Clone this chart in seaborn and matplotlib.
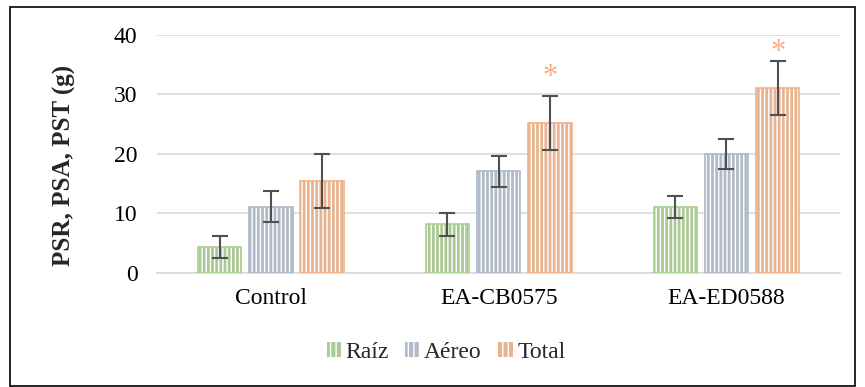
import matplotlib
matplotlib.use("Agg")
import matplotlib.pyplot as plt
import pandas as pd
import seaborn as sns
from matplotlib.patches import Rectangle

# data
groups = ["Control", "EA-CB0575", "EA-ED0588"]
series = ["Raíz", "Aéreo", "Total"]
raiz = [4.4, 8.2, 11.1]
aereo = [11.1, 17.1, 20.0]
total = [15.5, 25.2, 31.1]
raiz_err = [1.9, 1.9, 1.9]
aereo_err = [2.6, 2.6, 2.6]
total_err = [4.5, 4.5, 4.5]
signif = ["", "*", "*"]
signif_y = [None, 33.5, 37.6]

colors = ["#A9D18E", "#ADB9CA", "#F4B183"]

sns.set_theme(style="white")
plt.rcParams["font.family"] = ["Liberation Serif", "DejaVu Serif"]
plt.rcParams["hatch.color"] = "white"
plt.rcParams["hatch.linewidth"] = 1.0

df = pd.DataFrame({
    "grupo": groups * 3,
    "serie": [s for s in series for _ in groups],
    "valor": raiz + aereo + total,
    "err": raiz_err + aereo_err + total_err,
})

fig = plt.figure(figsize=(8.65, 3.87), dpi=100)
ax = fig.add_axes([0.1815, 0.2946, 0.79, 0.615])

ax = sns.barplot(data=df, x="grupo", y="valor", hue="serie", palette=colors,
                 width=0.675, gap=0.155, errorbar=None, ax=ax, linewidth=0,
                 zorder=3)

# hatch + outline per bar, error bars from patch positions
for container, col, s in zip(ax.containers, colors, series):
    sub = df[df["serie"] == s]
    xs, ys = [], []
    for patch, (_, row) in zip(container.patches, sub.iterrows()):
        patch.set_hatch("||||")
        x = patch.get_x() + patch.get_width() / 2
        xs.append(x)
        ys.append(row["valor"])
        ax.add_patch(Rectangle((patch.get_x(), 0), patch.get_width(), row["valor"],
                               fill=False, edgecolor=col, linewidth=1.2, zorder=4))
    ax.errorbar(xs, ys, yerr=sub["err"].values, fmt="none", ecolor="#505050",
                elinewidth=1.5, capsize=6, capthick=1.5, zorder=5)

# significance marks over the Total bars
tot_patches = ax.containers[2].patches
for patch, mark, yy in zip(tot_patches, signif, signif_y):
    if mark:
        ax.text(patch.get_x() + patch.get_width() / 2, yy, mark, ha="center",
                va="center_baseline", color=colors[2], fontsize=22)

ax.set_xlim(-0.5, len(groups) - 0.5)
ax.set_ylim(0, 40)
ax.set_yticks([0, 10, 20, 30, 40])
ax.yaxis.grid(True, color="#D9D9D9", linewidth=1.2, zorder=0)
ax.set_axisbelow(True)
for side in ["top", "right", "left"]:
    ax.spines[side].set_visible(False)
ax.spines["bottom"].set_color("#D9D9D9")
ax.spines["bottom"].set_linewidth(1.2)
ax.tick_params(axis="both", length=0, labelsize=17, colors="black")
ax.tick_params(axis="y", pad=14)
ax.tick_params(axis="x", pad=11)
ax.set_xlabel("")
ax.set_ylabel("PSR, PSA, PST (g)", fontsize=18, fontweight="bold")
ax.yaxis.set_label_coords(-0.118, 0.45)

handles, labels = ax.get_legend_handles_labels()
for h in handles:
    h.set_hatch("|||")
    h.set_linewidth(0)
leg = ax.legend(handles, labels, loc="center", bbox_to_anchor=(0.423, -0.335),
                ncol=3, frameon=False, fontsize=17, handlelength=0.6,
                handleheight=0.6, handletextpad=0.2, columnspacing=0.7)

fig.add_artist(Rectangle((0.011, 0.003), 0.978, 0.979, transform=fig.transFigure,
                         fill=False, edgecolor="black", linewidth=1.2))

fig.savefig("out.png", dpi=100)
